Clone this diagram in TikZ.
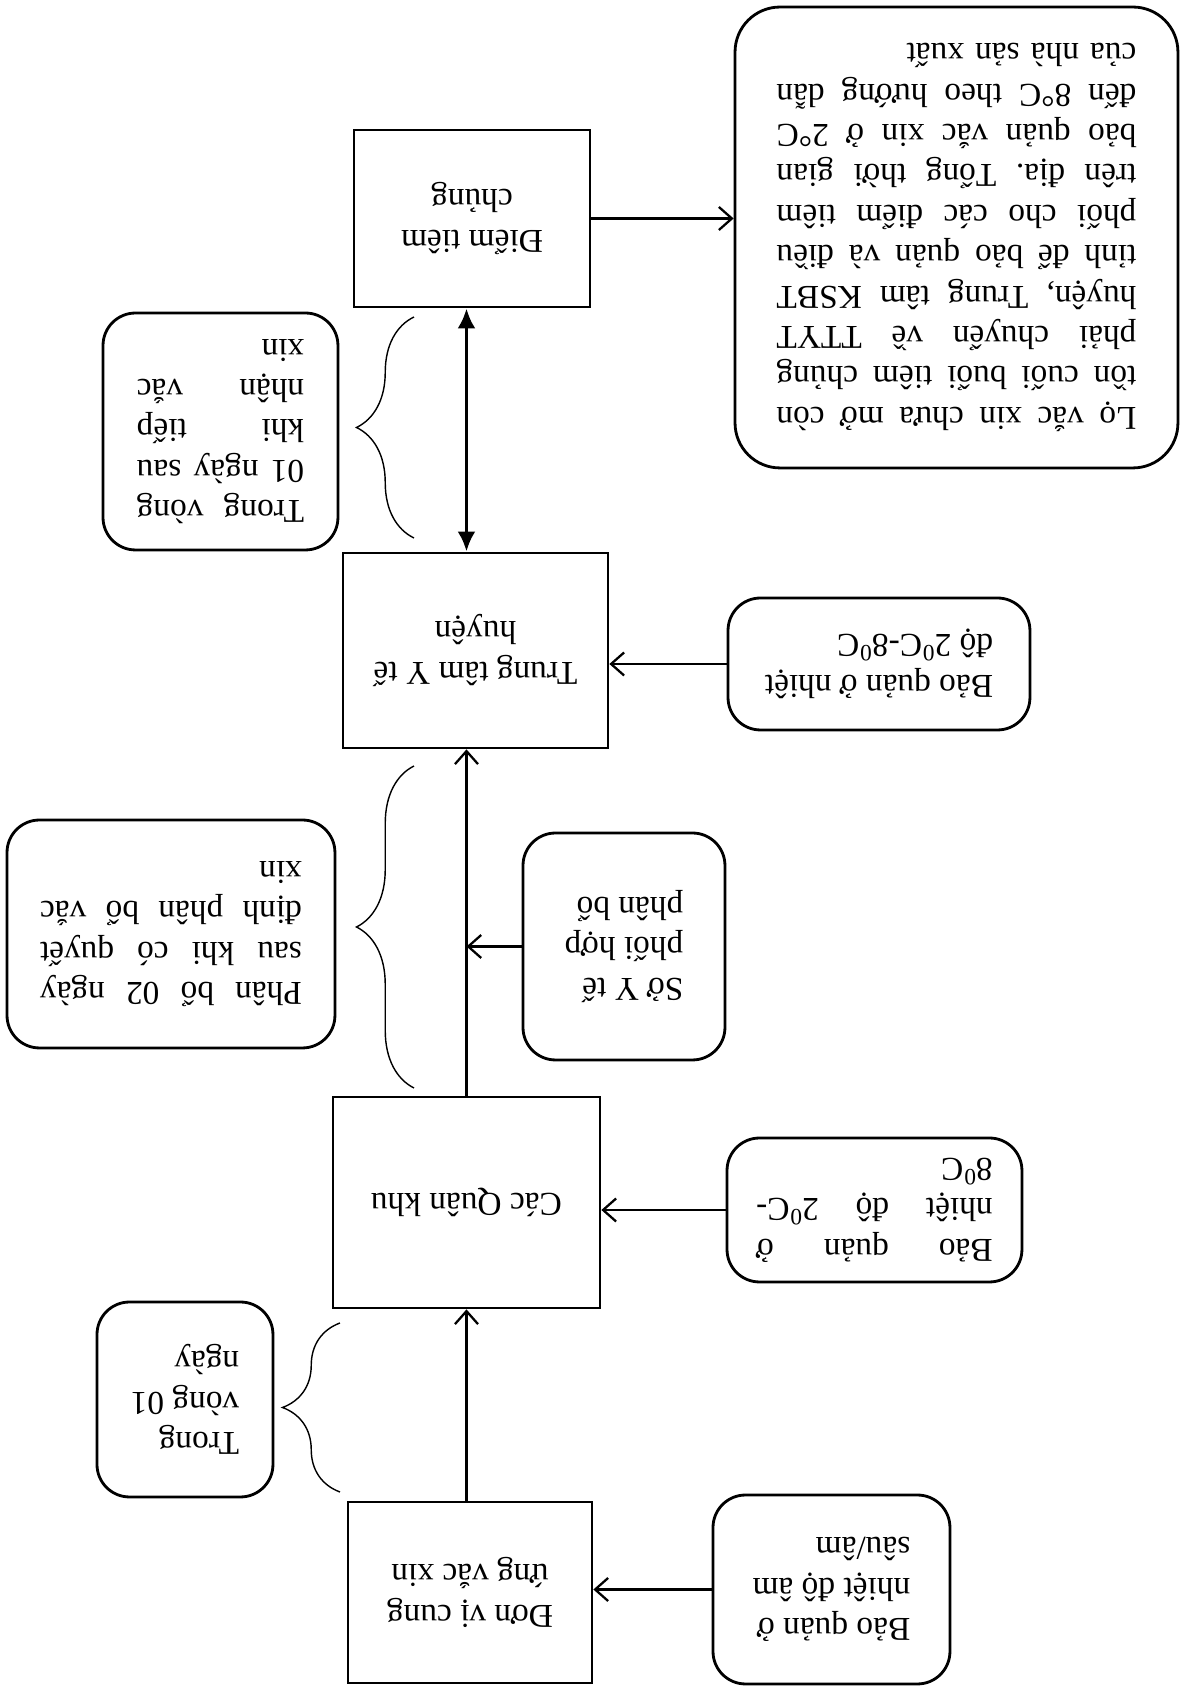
\documentclass[tikz,border=0pt]{standalone}
\usepackage{fontspec}
\setmainfont{Liberation Serif}
\usepackage{tikz}
\usetikzlibrary{arrows.meta,decorations.pathreplacing}
\frenchspacing

% one justified line of a note
\newlength{\jlw}
\newcommand{\jl}[1]{\makebox[\jlw][s]{\spaceskip=0pt\xspaceskip=0pt\relax #1}}

\tikzset{
  box/.style={draw, line width=1.6pt, inner sep=0pt, align=center},
  note/.style={draw, line width=1.6pt, rounded corners=0.65cm, inner sep=0pt, align=left},
  jnote/.style={note, text width=#1, execute at begin node={\setlength{\jlw}{#1}}},
  flow/.style={line width=1.3pt, -{Straight Barb[length=2.6mm,width=4.6mm]}},
  both/.style={line width=2.2pt, {Latex[length=4mm,width=3.6mm]}-{Latex[length=4mm,width=3.6mm]}},
  brace/.style={line width=0.8pt, decorate, decoration={brace, amplitude=1.15cm}}
}

\begin{document}
\begin{tikzpicture}[x=0.02cm, y=-0.02cm, rotate=180, transform shape,
    font=\fontsize{19}{23}\selectfont]
    \useasboundingbox (0,0) rectangle (1183,1687);

    % main chain
    \node[box, minimum width=4.88cm, minimum height=3.62cm] (supply) at (713,94.5) {Đơn vị cung\\ứng vắc xin};
    \node[box, minimum width=5.34cm, minimum height=4.22cm] (zone) at (716.5,484.5) {Các Quân khu};
    \node[box, minimum width=5.3cm, minimum height=3.9cm] (district) at (707.5,1036.5) {Trung tâm Y tế\\huyện};
    \node[box, minimum width=4.72cm, minimum height=3.54cm] (site) at (711,1468.5) {Điểm tiêm\\chủng};

    % storage notes
    \node[note, minimum width=4.74cm, minimum height=3.78cm] (keepdeep) at (351.5,97.5) {Bảo quản ở\\nhiệt độ âm\\sâu/âm};
    \node[jnote=4.73cm, minimum width=5.9cm, minimum height=2.88cm] (keepzone) at (308.5,477)
      {\jl{Bảo quản ở}\\\jl{nhiệt độ 2\textsuperscript{0}C-}\\8\textsuperscript{0}C};
    \node[note, minimum width=6.04cm, minimum height=2.64cm] (keepdist) at (304,1023) {Bảo quản ở nhiệt\\độ 2\textsuperscript{0}C-8\textsuperscript{0}C};
    \node[note, minimum width=4.04cm, minimum height=4.54cm] (dept) at (559,740.5) {Sở Y tế\\phối hợp\\phân bổ};
    \node[jnote=7.2cm, rounded corners=0.9cm, minimum width=8.86cm, minimum height=9.22cm] (leftover) at (226.5,1449.5)
      {\jl{Lọ vắc xin chưa mở còn}\\
       \jl{tồn cuối buổi tiêm chủng}\\
       \jl{phải chuyển về TTYT}\\
       \jl{huyện, Trung tâm KSBT}\\
       \jl{tỉnh để bảo quản và điều}\\
       \jl{phối cho các điểm tiêm}\\
       \jl{trên địa. Tổng thời gian}\\
       \jl{bảo quản vắc xin ở 2°C}\\
       \jl{đến 8°C theo hướng dẫn}\\
       của nhà sản xuất};

    % time notes
    \node[note, minimum width=3.52cm, minimum height=3.9cm] (noteday) at (998,287.5) {Trong\\vòng 01\\ngày};
    \node[jnote=5.24cm, minimum width=6.56cm, minimum height=4.56cm] (notealloc) at (1012,753)
      {\jl{Phân bổ 02 ngày}\\\jl{sau khi có quyết}\\\jl{định phân bổ vắc}\\xin};
    \node[jnote=3.35cm, minimum width=4.7cm, minimum height=4.74cm] (notereceive) at (962.5,1255.5)
      {\jl{Trong vòng}\\\jl{01 ngày sau}\\\jl{khi tiếp}\\\jl{nhận vắc}\\xin};

    % connectors
    \draw[flow] (keepdeep.east) -- (keepdeep.east -| supply.west);
    \draw[flow] (supply.south -| zone) -- (zone.north);
    \draw[flow] (keepzone.east) -- (keepzone.east -| zone.west);
    \draw[flow] (zone.south) -- (zone.south |- district.north);
    \draw[flow] (dept.east) -- (dept.east -| zone);
    \draw[flow] (keepdist.east) -- (keepdist.east -| district.west);
    \draw[both] (district.south -| zone) -- (site.north -| zone);
    \draw[flow] (site.west) -- (site.west -| leftover.east);

    % braces
    \draw[brace] (843,195) -- (843,364);
    \draw[brace] (769,599) -- (769,921);
    \draw[brace] (769,1149) -- (769,1370);
\end{tikzpicture}
\end{document}
